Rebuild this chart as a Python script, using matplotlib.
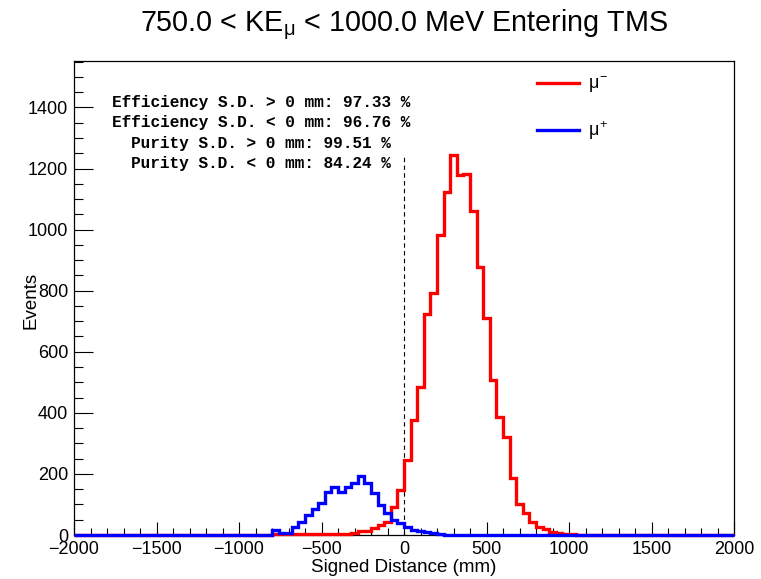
import numpy as np
import matplotlib
matplotlib.use("Agg")
import matplotlib.pyplot as plt
from matplotlib.ticker import MultipleLocator
from matplotlib.lines import Line2D

plt.rcParams['font.family'] = ['Liberation Sans', 'DejaVu Sans']
plt.rcParams['mathtext.fontset'] = 'custom'
plt.rcParams['mathtext.rm'] = 'Liberation Sans'
plt.rcParams['mathtext.it'] = 'Liberation Sans'
plt.rcParams['mathtext.sf'] = 'Liberation Sans'

# ---- data: 100 bins of 40 mm from -2000 to 2000 ----
bin_lo, bin_hi, n_bins = -2000, 2000, 100

# values for the non-empty region starting at -1000 mm (bin index 25)
start_bin = 25
mu_minus = [0, 0, 0, 0, 0,                  # -1000 .. -800
            2, 2, 2, 2, 2, 2, 2, 2, 2, 2, 2, 2,  # -800 .. -320
            6, 12, 13, 23, 33, 44, 93, 147,     # -320 .. 0
            246, 376, 485, 725, 791, 982, 1123, 1243,  # 0 .. 320
            1178, 1181, 1061, 878, 709, 507, 385, 322,  # 320 .. 640
            186, 101, 71, 44, 25, 19, 11, 6, 4, 3]      # 640 .. 1040
mu_plus = [1, 1, 1, 1, 1,                    # -1000 .. -800
           15, 6, 6, 25, 44, 66, 84, 104,    # -800 .. -480
           142, 158, 142, 158, 169, 193, 169, 139,  # -480 .. -160
           98, 71, 49, 38,                   # -160 .. 0
           25, 18, 13, 11, 7, 2, 1]          # 0 .. 280

eff_pos, eff_neg, pur_pos, pur_neg = 97.33, 96.76, 99.51, 84.24
title = r"750.0 < KE$_{\mu}$ < 1000.0 MeV Entering TMS"

edges = np.linspace(bin_lo, bin_hi, n_bins + 1)
h_minus = np.zeros(n_bins)
h_minus[start_bin:start_bin + len(mu_minus)] = mu_minus
h_plus = np.zeros(n_bins)
h_plus[start_bin:start_bin + len(mu_plus)] = mu_plus

W, H = 761, 579
fig = plt.figure(figsize=(W / 100, H / 100), dpi=100)
ax = fig.add_axes([74 / W, 1 - 535 / H, (734 - 74) / W, (535 - 61) / H])

red = '#ff0000'
blue = '#0000ff'
ax.stairs(h_minus, edges, color=red, lw=2.4, clip_on=False, zorder=3)
ax.stairs(h_plus, edges, color=blue, lw=2.4, clip_on=False, zorder=4)

ax.plot([0, 0], [0, h_minus.max()], color='black', lw=0.8, ls=(0, (4, 3)), zorder=2)

ax.set_xlim(bin_lo, bin_hi)
ax.set_ylim(0, 1552)
ax.xaxis.set_major_locator(MultipleLocator(500))
ax.xaxis.set_minor_locator(MultipleLocator(100))
ax.yaxis.set_major_locator(MultipleLocator(200))
ax.yaxis.set_minor_locator(MultipleLocator(50))
ax.tick_params(axis='both', which='both', direction='in', top=False, right=False,
               labelsize=13, width=0.8)
ax.tick_params(axis='y', which='major', length=13.7, pad=4.3)
ax.tick_params(axis='y', which='minor', length=6.8)
ax.tick_params(axis='x', which='major', length=9.4, pad=4.3)
ax.tick_params(axis='x', which='minor', length=5)
for s in ax.spines.values():
    s.set_linewidth(0.9)

ax.set_xlabel("Signed Distance (mm)", fontsize=13.5, labelpad=1)
ax.set_ylabel("Events", fontsize=13.5, va='center')
ax.yaxis.set_label_coords((31 - 74) / (734 - 74), 0.495)

fig.text(404 / W, 1 - 25 / H, title, ha='center', va='center', fontsize=20.7)

mono = dict(family=['Liberation Mono', 'DejaVu Sans Mono'], weight='bold', fontsize=11.6,
            ha='center', va='center', transform=fig.transFigure)
lines = [f"Efficiency S.D. > 0 mm: {eff_pos:.2f} %",
         f"Efficiency S.D. < 0 mm: {eff_neg:.2f} %",
         f"Purity S.D. > 0 mm: {pur_pos:.2f} %",
         f"Purity S.D. < 0 mm: {pur_neg:.2f} %"]
for i, t in enumerate(lines):
    fig.text(261 / W, 1 - (102 + 20.6 * i) / H, t, **mono)

handles = [Line2D([], [], color=red, lw=2.4), Line2D([], [], color=blue, lw=2.4)]
leg = ax.legend(handles, [r"$\mu^{-}$", r"$\mu^{+}$"], loc='upper left',
                bbox_to_anchor=(537 / W, 1 - 75 / H), bbox_transform=fig.transFigure,
                frameon=False, fontsize=13, handlelength=2.3, handletextpad=0.5,
                labelspacing=1.35, borderpad=0, borderaxespad=0)

fig.savefig("out.png", dpi=100)
